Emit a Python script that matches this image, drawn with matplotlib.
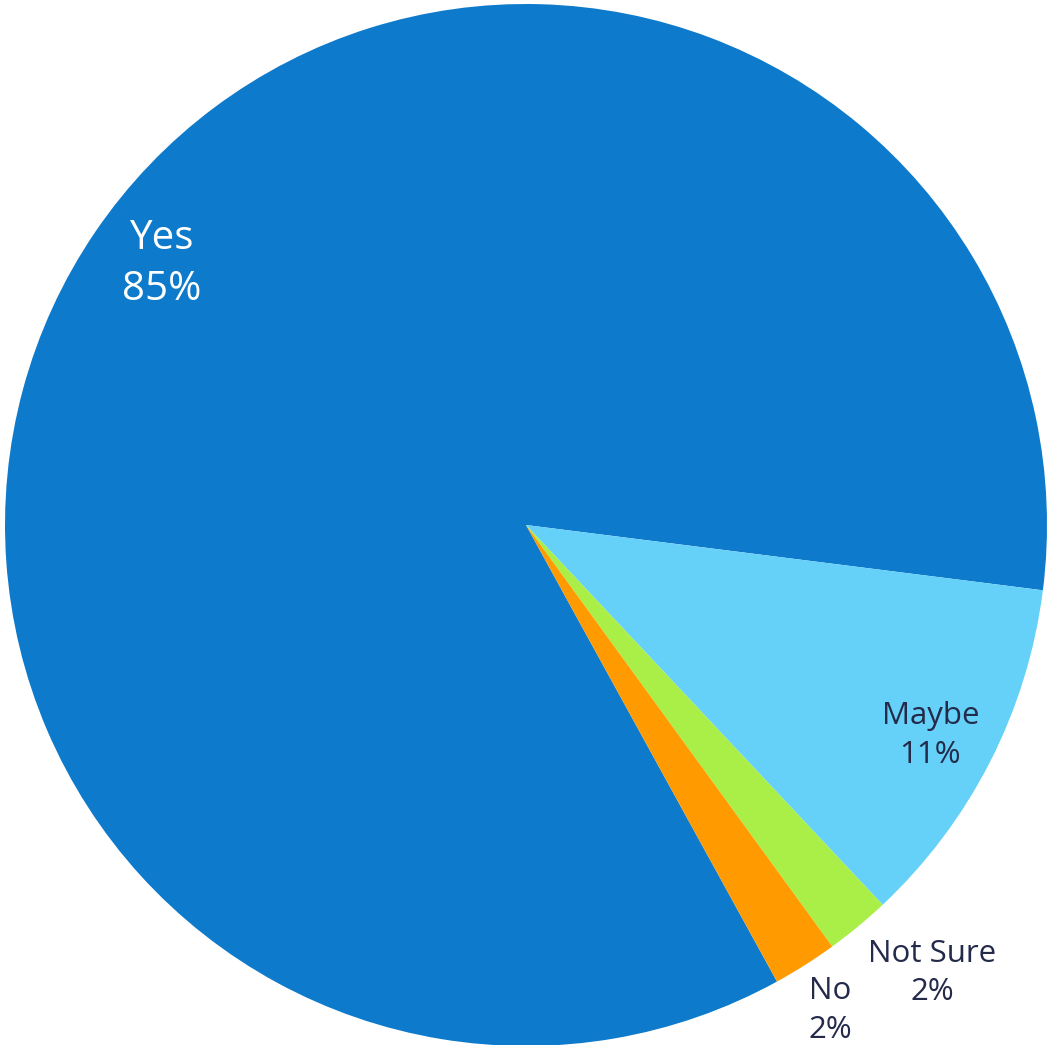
import numpy as np
import matplotlib.pyplot as plt

# survey answers, clockwise from the "Yes" slice
answers = ["Yes", "Maybe", "Not Sure", "No"]
shares = [85, 11, 2, 2]
colors = ["#0e7acb", "#66d1f8", "#aaef47", "#ff9a00"]

# label placement: radius (pie units), angle nudge (deg), size, colour
label_r = [0.86, 0.875, 1.16, 1.10]
label_nudge = [-1.4, -0.5, 2.6, -0.3]
label_size = [29, 22.5, 22.5, 22.5]
label_color = ["white", "#232a4a", "#232a4a", "#232a4a"]

plt.rcParams["font.family"] = ["Open Sans", "DejaVu Sans"]

fig = plt.figure(figsize=(10.47, 10.45), dpi=100)
ax = fig.add_axes([0, 0, 1, 1])

wedges, _ = ax.pie(shares, colors=colors, startangle=298.8,
                   counterclock=False, radius=1.0,
                   wedgeprops=dict(linewidth=0))

for w, name, val, r, nudge, fs, tc in zip(wedges, answers, shares, label_r,
                                          label_nudge, label_size, label_color):
    mid = np.deg2rad((w.theta1 + w.theta2) / 2 + nudge)
    ax.text(r * np.cos(mid), r * np.sin(mid), f"{name}\n{val}%",
            ha="center", va="center", fontsize=fs, color=tc,
            linespacing=1.35)

ax.set_xlim(-526 / 521, 521 / 521)
ax.set_ylim(-520 / 521, 525 / 521)
ax.set_aspect("equal")
ax.axis("off")

fig.savefig("out.png", dpi=100)
